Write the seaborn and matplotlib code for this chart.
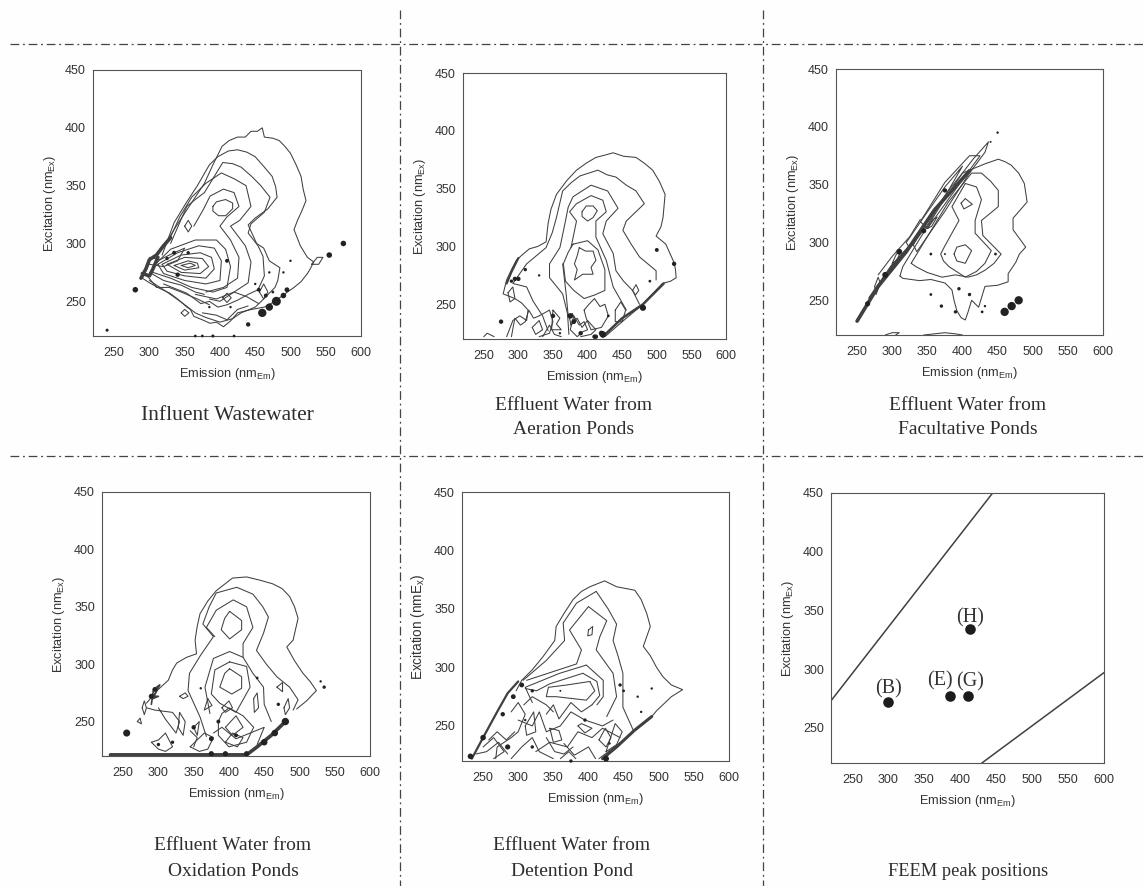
import matplotlib
matplotlib.use("Agg")
import matplotlib.pyplot as plt
from matplotlib.lines import Line2D
import seaborn as sns

# --- contour lines, (emission, excitation) ---
p1_rings = [
    [(290,270),(300,285),(320,297),(337,314),(353,329),(365,340),(378,352),(390,368),(403,384),(413,389),(425,392),(436,392),(444,397),(453,397),(460,400),(463,392),(475,391),(484,389),(492,384),(500,378),(508,368),(515,358),(518,347),(522,337),(516,328),(510,320),(505,312),(514,298),(524,288),(533,284),(528,278),(524,274),(515,267),(505,262),(491,256),(478,250),(463,245),(445,243),(425,240),(415,233),(405,228),(395,232),(386,231),(375,234),(363,237),(358,243),(353,245),(340,252),(329,257),(315,261),(300,266),(290,270)],
    [(318,290),(335,318),(352,335),(368,350),(385,368),(397,375),(412,380),(425,381),(438,379),(450,375),(463,366),(474,358),(479,349),(481,340),(468,330),(450,322),(440,316),(452,300),(462,296),(470,285),(485,279),(482,268),(478,262),(462,252),(450,245),(430,240),(418,235),(400,232),(380,236),(365,240),(348,248),(325,258),(300,268)],
    [(330,300),(353,332),(365,338),(378,344),(392,358),(404,370),(418,369),(430,366),(445,358),(458,350),(471,340),(463,327),(444,317),(440,309),(454,298),(461,289),(463,272),(454,260),(440,256),(425,251),(410,247),(397,245),(385,250),(373,248),(353,257),(320,265)],
    [(328,303),(343,323),(360,340),(380,352),(402,361),(420,356),(437,350),(444,332),(428,320),(415,315),(436,298),(444,284),(440,266),(420,258),(395,252),(365,256)],
    [(363,315),(377,330),(386,341),(405,347),(420,344),(427,332),(410,323),(400,315),(415,303),(427,288),(425,270),(405,262),(380,258)],
    [(390,332),(395,336),(408,338),(418,335),(418,330),(408,324),(398,324),(390,328),(390,332)],
    [(305,280),(330,295),(365,303),(395,303),(408,295),(415,280),(410,262),(390,258),(360,262),(330,270),(305,275)],
    [(312,282),(340,292),(370,298),(392,296),(402,285),(400,268),(380,265),(350,268),(320,274),(312,282)],
    [(318,282),(345,290),(372,292),(388,288),(392,278),(380,270),(350,272),(325,276),(318,282)],
    [(325,282),(350,288),(375,287),(384,280),(372,274),(345,275),(325,282)],
    [(335,281),(355,285),(368,283),(370,279),(350,277),(335,281)],
    [(345,281),(358,283),(365,281),(355,279),(345,281)],
    [(350,315),(355,320),(360,315),(355,310),(350,315)],
    [(345,240),(350,243),(356,240),(350,237),(345,240)],
    [(456,258),(462,265),(468,258),(462,252),(456,258)],
    [(404,253),(410,257),(416,253),(410,249),(404,253)],
    [(530,282),(538,288),(546,288),(540,282),(530,282)],
    [(297,272),(310,262),(328,262),(345,258),(368,252),(385,247)],
    [(300,275),(320,268),(345,264),(365,258),(378,256)],
    [(375,240),(395,238),(410,234),(425,243),(440,246)],
    [(385,252),(400,250),(420,258),(438,254),(455,248)],
    [(300,288),(315,286),(335,292),(350,296),(340,285),(320,280),(300,282)],
]
p1_thick = [(288,270),(295,278),(300,286),(310,290),(320,298),(330,305)]
p1_thick2 = [(290,274),(300,272),(305,278),(312,288)]
p1_dots_x = [280,240,440,555,575,460,470,480,490,495,410,500,470,490,450,455,465,475,385,415,365,375,390,420,335,355,340,325]
p1_dots_y = [260,225,230,290,300,240,245,250,255,260,285,285,275,275,265,260,255,258,245,245,220,220,220,220,292,292,273,287]
p1_dots_s = [16,5,10,16,16,36,28,42,16,12,8,3,3,3,3,8,8,4,3,3,4,4,5,4,8,6,10,6]

p2_rings = [
    [(425,222),(456,238),(480,250),(508,268),(520,270),(528,273),(527,280),(525,286),(519,294),(513,302),(499,309),(506,317),(509,325),(512,345),(504,356),(494,366),(482,372),(470,377),(452,378),(437,381),(425,379),(412,377),(398,372),(384,366),(370,357),(355,345),(347,332),(343,320),(340,304),(328,300),(316,298),(306,293),(297,288),(290,280),(283,271),(278,259),(295,255),(305,251),(314,245),(312,236),(302,240),(292,236),(287,228),(283,222)],
    [(343,227),(335,240),(321,253),(312,265),(292,268),(312,285),(340,299),(349,312),(355,325),(364,348),(376,355),(389,361),(415,366),(428,362),(441,360),(456,353),(470,348),(482,337),(456,322),(451,314),(463,302),(475,291),(499,279),(499,271)],
    [(373,224),(371,242),(364,259),(345,273),(345,285),(360,299),(366,316),(372,334),(379,343),(405,353),(429,348),(444,333),(427,322),(422,311),(437,294),(441,279),(452,270),(465,262),(475,250)],
    [(364,285),(369,259),(372,240)],
    [(376,299),(384,322),(374,330),(384,337),(405,344),(422,340),(427,330),(412,322),(412,308),(427,288),(437,265),(456,245)],
    [(392,330),(398,335),(408,335),(414,331),(408,325),(400,322),(392,326),(392,330)],
    [(379,302),(400,305),(415,297),(425,280),(425,262),(410,258),(395,255),(380,262),(368,270),(365,285),(372,295),(379,302)],
    [(388,299),(397,296),(408,296),(412,288),(405,282),(408,276),(393,276),(381,271),(385,280),(381,285),(385,292),(388,299)],
    [(290,222),(293,232),(295,238),(303,232),(310,235),(315,245),(322,238),(330,240),(345,245),(350,235),(345,225),(330,222)],
    [(380,240),(388,232),(395,235),(400,228),(392,226),(385,222),(375,228),(380,240)],
    [(350,245),(360,238),(355,233),(362,228),(348,228),(350,245)],
    [(395,245),(402,250),(410,255),(418,248),(425,250),(430,240),(420,230),(405,228),(398,238),(395,245)],
    [(440,245),(448,252),(455,245),(450,235),(440,235),(440,245)],
    [(285,260),(292,265),(295,255),(288,252),(285,260)],
    [(250,222),(255,225),(265,222)],
    [(320,230),(330,236),(335,228),(325,224),(320,230)],
    [(465,262),(470,267),(474,262),(469,258),(465,262)],
    [(375,232),(385,238),(392,230),(400,236),(412,228),(405,224),(390,222)],
    [(335,222),(345,232),(352,224),(362,222)],
    [(378,242),(382,236),(376,232),(374,238),(378,242)],
]
p2_thick = [(422,222),(450,238),(480,250),(510,268)]
p2_thin_dark = [(283,268),(290,278),(300,290)]
p2_dots_x = [300,290,310,275,350,375,380,390,410,490,500,525,330,420,430,360,422,412,480,295]
p2_dots_y = [272,270,280,235,240,240,235,225,222,270,297,285,275,225,240,225,224,222,247,272]
p2_dots_s = [10,6,6,10,10,16,12,10,10,4,8,10,3,14,4,3,22,10,20,10]

p3_rings = [
    [(311,271),(315,279),(339,303),(375,338),(400,360),(420,365),(432,368),(451,372),(460,370),(469,367),(480,360),(488,351),(492,335),(482,328),(472,321),(472,311),(490,296),(481,290),(476,283),(465,273),(465,266),(450,263),(432,262),(427,252),(423,244),(413,250),(408,240),(404,233),(398,235),(392,241),(388,250),(385,259),(375,265),(355,268),(339,267),(315,269),(311,271)],
    [(327,282),(350,305),(380,335),(413,360),(427,360),(440,353),(451,345),(451,331),(427,319),(429,306),(455,290),(445,282),(432,276),(420,272),(408,270),(390,272),(371,270),(350,274),(334,279),(327,282)],
    [(404,351),(385,331),(395,319),(374,296),(369,290),(373,284),(381,279),(404,270),(420,275),(432,282),(441,293),(418,308),(418,319),(427,337),(420,348),(404,351)],
    [(398,334),(404,338),(414,333),(402,329),(398,334)],
    [(388,290),(392,284),(404,282),(413,293),(404,298),(392,296),(388,290)],
    [(330,298),(355,323),(380,345),(400,360),(415,372),(437,387),(432,378),(410,360),(375,327),(335,292),(330,298)],
    [(340,318),(375,352),(410,375),(425,375),(395,350),(350,312),(340,318)],
    [(320,300),(345,322),(375,348),(400,366),(380,345),(350,315),(325,295),(320,300)],
    [(280,272),(300,288),(325,305),(340,320)],
    [(290,220),(300,222),(310,222),(305,220)],
    [(345,220),(360,221),(375,222),(390,221),(400,220)],
    [(275,262),(280,270),(283,265),(277,255),(275,262)],
    [(300,282),(306,290),(312,292),(306,284),(300,282)],
    [(350,312),(358,320),(364,322),(356,314),(350,312)],
]
p3_thick = [(250,232),(280,262),(320,292),(360,328),(410,362)]
p3_thick2 = [(268,252),(300,280),(330,300)]
p3_dots_x = [460,470,480,355,447,355,370,450,440,390,428,395,410,432,375,265,290,310,345,375]
p3_dots_y = [240,245,250,290,290,255,245,395,387,240,240,260,255,245,290,247,272,292,310,345]
p3_dots_s = [36,36,36,4,4,4,6,3,2,6,4,6,6,3,2,14,18,18,12,10]

p4_rings = [
    [(283,266),(298,277),(314,286),(320,295),(326,301),(340,306),(354,309),(352,321),(355,333),(359,344),(370,355),(382,364),(405,375),(425,376),(445,373),(462,370),(475,366),(486,359),(493,350),(498,340),(491,321),(482,315),(493,303),(505,292),(515,285),(524,277),(510,268),(496,261)],
    [(368,237),(359,254),(342,277),(344,292),(360,308),(378,324),(363,335),(372,350),(382,362),(411,367),(434,361),(448,350),(456,341),(449,327),(439,312),(453,300),(468,289),(486,280),(498,269),(491,260)],
    [(373,257),(366,280),(378,305),(401,311),(420,306),(434,292),(449,280),(450,265),(460,250)],
    [(380,324),(368,332),(382,347),(406,356),(425,350),(434,332),(420,318),(420,306)],
    [(401,346),(418,338),(418,330),(401,322),(389,330),(394,340),(401,346)],
    [(401,302),(380,295),(375,274),(387,266),(410,258),(430,280),(425,298),(401,302)],
    [(401,296),(418,289),(418,279),(404,274),(387,280),(394,292),(401,296)],
    [(283,262),(295,260),(320,258),(330,250),(325,240),(310,252),(300,262)],
    [(290,232),(300,234),(310,240),(320,228),(310,224),(300,226),(290,232)],
    [(330,258),(338,250),(335,238),(328,245),(330,258)],
    [(350,245),(358,250),(355,238),(350,245)],
    [(345,228),(355,234),(365,240),(378,236),(370,226),(358,224),(345,228)],
    [(385,250),(390,257),(400,262),(420,255),(435,245),(425,232),(400,228),(385,238),(385,250)],
    [(395,245),(410,255),(420,245),(405,238),(395,245)],
    [(370,270),(376,264),(365,260),(370,270)],
    [(390,262),(400,268),(405,262),(395,258),(390,262)],
    [(435,270),(440,275),(442,262),(436,258),(435,270)],
    [(478,262),(484,270),(486,262),(480,256),(478,262)],
    [(468,280),(476,284),(476,276),(468,280)],
    [(270,250),(274,253),(276,248),(270,250)],
    [(277,262),(280,268),(283,262),(280,256),(277,262)],
    [(330,272),(338,275),(342,272),(335,270),(330,272)],
    [(378,240),(390,245),(410,235),(430,240),(450,245),(440,230)],
    [(395,232),(405,240),(420,236),(412,228),(395,232)],
    [(350,228),(355,236),(345,242)],
]
p4_thick = [(232,221),(300,221),(360,221),(425,221),(440,228),(460,238),(480,250)]
p4_cluster = [(290,265),(293,278),(302,282),(292,270),(300,272),(290,272)]
p4_dots_x = [255,530,535,440,470,300,320,375,350,410,385,360,290,295,465,450,480,425,375,395]
p4_dots_y = [240,285,280,288,265,230,232,235,245,238,250,279,272,278,240,232,250,222,222,222]
p4_dots_s = [26,3,6,4,6,6,6,12,10,8,8,3,14,12,22,22,28,14,14,14]

p5_rings = [
    [(415,222),(450,238),(490,258),(497,263),(518,275),(534,281),(518,285),(506,292),(497,300),(488,310),(478,318),(488,335),(483,346),(475,358),(466,366),(440,369),(423,374),(402,369),(390,365),(378,358),(365,346),(354,335),(352,323),(335,309),(320,298),(305,289),(297,280)],
    [(411,365),(383,355),(364,338),(366,323),(340,306),(307,289)],
    [(411,365),(428,350),(440,337),(435,323),(442,310),(449,295),(449,266),(464,246)],
    [(400,352),(373,332),(390,315),(383,303),(312,289)],
    [(400,352),(426,340),(416,326),(411,315),(435,295),(440,275),(426,258)],
    [(397,302),(359,295),(310,283),(320,270)],
    [(397,302),(421,289),(421,275),(412,268)],
    [(392,295),(345,286),(326,280),(310,282)],
    [(392,295),(412,288),(416,276),(405,268)],
    [(402,288),(409,280),(397,272),(354,275),(340,275),(343,283),(369,285),(402,288)],
    [(400,332),(406,335),(405,328),(399,327),(400,332)],
    [(268,222),(270,232),(290,240),(300,245),(310,260),(300,270),(290,262)],
    [(300,255),(320,250),(330,262),(340,245),(360,250),(375,262),(395,255),(420,250),(435,255)],
    [(310,250),(322,262),(325,245),(312,242),(310,250)],
    [(325,228),(345,236),(370,232),(385,245),(405,240),(420,248),(445,240)],
    [(345,248),(358,246),(362,238),(350,236),(345,248)],
    [(365,235),(380,225),(400,232),(410,222)],
    [(290,222),(305,232),(320,240),(330,228),(350,222)],
    [(250,232),(265,240),(280,228),(265,222)],
    [(385,250),(395,244),(405,248),(390,252),(385,250)],
    [(360,222),(372,228),(382,222)],
    [(425,228),(440,234),(448,245),(438,252),(425,228)],
    [(415,238),(425,232),(432,240),(424,248),(415,238)],
    [(340,260),(350,268),(358,256),(375,270),(390,262),(405,268)],
    [(308,268),(320,275),(340,268),(350,262)],
    [(258,238),(270,245),(283,238),(295,245)],
    [(240,226),(255,228),(272,236),(285,226)],
    [(340,240),(352,228),(365,226),(378,232)],
]
p5_thick = [(234,222),(250,240),(270,262),(285,278),(300,288)]
p5_thick2 = [(420,222),(440,232),(465,246),(490,258)]
p5_dots_x = [250,285,232,310,320,360,375,395,430,445,450,470,475,490,320,293,305,278,425]
p5_dots_y = [240,232,224,255,232,280,220,255,235,285,280,275,262,282,280,275,285,260,222]
p5_dots_s = [16,14,16,3,6,2,6,6,3,6,4,3,3,3,6,12,12,10,18]

peak_em = [300, 385, 411, 413]
peak_ex = [272, 277, 277, 334]
peak_names = ["(B)", "(E)", "(G)", "(H)"]
peak_label_em = [300, 371, 414, 413]
peak_label_ex = [283, 290, 289, 344]
upper_em = [220, 445]
upper_ex = [273, 450]
lower_em = [430, 600]
lower_ex = [220, 297]

x_ticks = [250, 300, 350, 400, 450, 500, 550, 600]
y_ticks = [250, 300, 350, 400, 450]

# left, right, top, bottom of each frame in the scan (pixels)
boxes = [(93,361,70,336),(463,726,73,339),(836,1103,69,335),
         (102,370,492,756),(462,729,492,761),(831,1104,493,763)]

W, H = 1146, 886
INK = "#404040"

sns.set_theme(style="white")
plt.rcParams["font.family"] = ["Liberation Sans", "DejaVu Sans"]
plt.rcParams["mathtext.default"] = "regular"

fig = plt.figure(figsize=(W/100, H/100), dpi=100, facecolor="#fefefe")


def make_ax(box, ylab="Excitation (nm$_{Ex}$)", ysize=9.2):
    l, r, t, b = box
    ax = fig.add_axes([l/W, 1-b/H, (r-l)/W, (b-t)/H])
    ax.set_xlim(220, 600)
    ax.set_ylim(220, 450)
    ax.set_xticks(x_ticks)
    ax.set_yticks(y_ticks)
    ax.tick_params(labelsize=9, length=0, pad=8, colors="#333333")
    ax.tick_params(axis="y", pad=5)
    ax.set_xlabel("Emission (nm$_{Em}$)", fontsize=9.2, color="#333333", labelpad=5)
    ax.set_ylabel(ylab, fontsize=ysize, color="#333333", labelpad=5)
    for s in ax.spines.values():
        s.set_linewidth(0.8)
        s.set_color("#555555")
    return ax


def draw_line(ax, pts, lw=0.75):
    xs = [p[0] for p in pts]
    ys = [p[1] for p in pts]
    sns.lineplot(x=xs, y=ys, sort=False, estimator=None, color=INK, linewidth=lw, ax=ax)


def draw_dots(ax, xs, ys, sizes):
    ax.scatter(xs, ys, s=sizes, color="#222222", linewidths=0, clip_on=False, zorder=3)


panels = [
    (p1_rings, [(p1_thick, 2.6), (p1_thick2, 2.6)], p1_dots_x, p1_dots_y, p1_dots_s),
    (p2_rings, [(p2_thick, 1.8), (p2_thin_dark, 1.6)], p2_dots_x, p2_dots_y, p2_dots_s),
    (p3_rings, [(p3_thick, 2.6), (p3_thick2, 2.0)], p3_dots_x, p3_dots_y, p3_dots_s),
    (p4_rings, [(p4_thick, 2.6), (p4_cluster, 1.2)], p4_dots_x, p4_dots_y, p4_dots_s),
    (p5_rings, [(p5_thick, 1.6), (p5_thick2, 2.2)], p5_dots_x, p5_dots_y, p5_dots_s),
]

for i, (rings, thick, dx, dy, ds) in enumerate(panels):
    if i == 4:
        ax = make_ax(boxes[i], "Excitation (nmE$_{x}$)", 9.8)
    else:
        ax = make_ax(boxes[i])
    for ring in rings:
        draw_line(ax, ring)
    for pts, lw in thick:
        draw_line(ax, pts, lw)
    draw_dots(ax, dx, dy, ds)

# FEEM peak panel
ax6 = make_ax(boxes[5])
sns.lineplot(x=upper_em, y=upper_ex, color=INK, linewidth=1.1, ax=ax6)
sns.lineplot(x=lower_em, y=lower_ex, color=INK, linewidth=1.1, ax=ax6)
sns.scatterplot(x=peak_em, y=peak_ex, s=58, color="#1c1c1c", linewidth=0, ax=ax6, zorder=3)
for name, ex_, ey_ in zip(peak_names, peak_label_em, peak_label_ex):
    ax6.text(ex_, ey_, name, family="Liberation Serif", fontsize=14.5, color="#333333",
             ha="center", va="center")

# captions under the panels, in pixels of the scan
captions = [
    ("Influent Wastewater", 227, 415, 15.5), ("Effluent Water from", 574, 405, 14),
    ("Aeration Ponds", 574, 429, 14), ("Effluent Water from", 968, 405, 14),
    ("Facultative Ponds", 968, 429, 14), ("Effluent Water from", 233, 845, 14),
    ("Oxidation Ponds", 233, 871, 14), ("Effluent Water from", 572, 846, 14),
    ("Detention Pond", 572, 871, 14), ("FEEM peak positions", 968, 871, 13.2),
]
for txt, cx, cy, fs in captions:
    fig.text(cx/W, 1-cy/H, txt, family="Liberation Serif", fontsize=fs, color="#2e2e2e",
             ha="center", va="center")

# dash-dot rules between the panels
rules = [((10, 1146), (44, 44)), ((10, 1146), (456, 456)), ((400, 400), (10, 886)), ((763, 763), (10, 886))]
for (x0, x1), (y0, y1) in rules:
    fig.add_artist(Line2D([x0/W, x1/W], [1-y0/H, 1-y1/H], color="#444444", lw=0.9,
                          dashes=(7, 3, 1.5, 3)))

fig.savefig("out.png", dpi=100, facecolor=fig.get_facecolor())
